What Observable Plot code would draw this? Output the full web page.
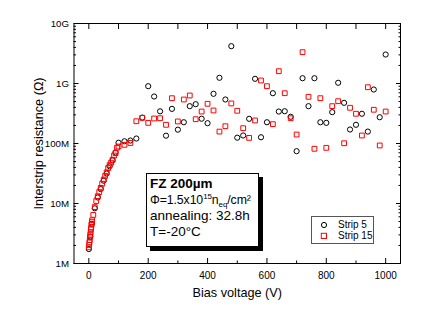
<!DOCTYPE html>
<html>
<head>
<meta charset="utf-8">
<script src="https://cdn.jsdelivr.net/npm/d3@7"></script>
<script src="https://cdn.jsdelivr.net/npm/@observablehq/plot@0.6"></script>
<style>
  html, body { margin: 0; padding: 0; background: #fff; }
  body { font-family: "Liberation Sans", Arial, Helvetica, sans-serif; color: #000; }
  #wrap { position: relative; width: 424px; height: 316px; overflow: hidden; }
  #info {
    position: absolute; left: 146px; top: 173px; width: 108px; height: 72px;
    border: 1px solid #000; background: #fff; box-shadow: 4px 4px 0 #000;
    font-size: 13.5px; padding-left: 3px; box-sizing: content-box;
  }
  #info div { white-space: nowrap; }
  #info sup, #info sub { font-size: 8px; line-height: 0; }
  #legend {
    position: absolute; left: 311px; top: 216px; width: 61px; height: 26px;
    border: 1px solid #555; background: #fff; font-size: 10px;
  }
  #legend .row { position: absolute; left: 0; height: 12px; white-space: nowrap; }
  #legend svg { position: absolute; left: 8px; top: 1px; }
  #legend span { position: absolute; left: 26px; top: -1px; }
</style>
</head>
<body>
<div id="wrap"></div>
<script>
// ---- tick definitions ----
const xTickValues = [0, 200, 400, 600, 800, 1000];
const xMinorTicks = [100, 300, 500, 700, 900];
const yTickValues = [1e6, 1e7, 1e8, 1e9, 1e10];
const yTickLabels = ["1M", "10M", "100M", "1G", "10G"];
const yMinorTicks = [];
for (const d of [1e6, 1e7, 1e8, 1e9]) for (let k = 2; k <= 9; k++) yMinorTicks.push(d * k);

// ---- data: bias voltage (V) and interstrip resistance (MΩ) ----
const strip5V = [0, 5, 10, 20, 30, 40, 50, 60, 70, 80, 90, 100, 120, 140, 160, 180,
  200, 220, 240, 260, 280, 300, 320, 340, 360, 380, 400, 420, 440, 460, 480, 500,
  520, 540, 560, 580, 600, 620, 640, 660, 680, 700, 720, 740, 760, 780, 800, 820,
  840, 860, 880, 900, 920, 940, 960, 980, 1000];
const strip5MOhm = [1.74, 2.82, 4.57, 8.32, 12.6, 17.4, 24.0, 31.6, 41.7, 52.5, 70.8, 103, 109, 112, 121, 270,
  902, 607, 344, 135, 378, 170, 226, 419, 452, 259, 218, 673, 1245, 541, 4188, 125,
  136, 258, 1197, 127, 226, 689, 341, 345, 279, 74.5, 1225, 419, 1225, 226, 221, 333,
  1028, 476, 171, 205, 313, 158, 794, 274, 3041];

const strip15V = [0, 1, 2, 3, 4, 5, 6, 7, 8, 9, 10, 11, 15, 20, 25, 30, 35, 40, 45, 50,
  55, 60, 65, 70, 75, 80, 85, 90, 95, 100, 120, 140, 160, 180, 200, 220, 240, 260,
  280, 300, 320, 340, 360, 380, 400, 420, 440, 460, 480, 500, 520, 540, 560, 580,
  600, 620, 640, 660, 680, 700, 720, 740, 760, 780, 800, 820, 840, 860, 880, 900,
  920, 940, 960, 980, 1000];
const strip15MOhm = [1.86, 2.04, 2.24, 2.45, 2.75, 3.02, 3.31, 3.72, 3.98, 4.47, 4.90, 5.25, 6.46, 8.71, 11.0, 13.2, 15.5, 18.2, 21.4, 25.1,
  28.8, 33.1, 38.9, 43.7, 47.9, 53.7, 63.1, 69.2, 85, 89, 95, 102, 235, 268, 221, 261, 264, 205,
  569, 233, 541, 631, 254, 341, 459, 355, 158, 194, 465, 351, 180, 124, 242, 1122,
  902, 210, 1603, 689, 264, 141, 3327, 600, 81.7, 569, 84.7, 419, 507, 101, 394, 313,
  136, 867, 365, 92.7, 341];

const rows5 = strip5V.map((v, i) => ({V: v, R: strip5MOhm[i] * 1e6}));
const rows15 = strip15V.map((v, i) => ({V: v, R: strip15MOhm[i] * 1e6}));

const noText = () => "";
const font = "Liberation Sans, Arial, Helvetica, sans-serif";

const chart = Plot.plot({
  width: 424,
  height: 316,
  marginLeft: 73.5,
  marginRight: 24,
  marginTop: 23,
  marginBottom: 53,
  style: {fontFamily: font, color: "#000", background: "#fff", overflow: "visible"},
  x: {domain: [-50, 1050]},
  y: {type: "log", domain: [1e6, 1e10]},
  marks: [
    Plot.frame({stroke: "#000", strokeWidth: 1}),
    // inward ticks, bottom
    Plot.axisX(xTickValues, {anchor: "bottom", tickSize: -5, tickFormat: noText, label: null}),
    Plot.axisX(xMinorTicks, {anchor: "bottom", tickSize: -2.5, tickFormat: noText, label: null}),
    Plot.axisX(xTickValues, {anchor: "bottom", tickSize: 0, tickPadding: 8, fontSize: 10, tickFormat: d => String(d), label: null}),
    // top ticks
    Plot.axisX(xTickValues.concat(xMinorTicks), {anchor: "top", tickSize: -5, tickFormat: noText, label: null}),
    // left ticks
    Plot.axisY(yTickValues, {anchor: "left", tickSize: -5, tickFormat: noText, label: null}),
    Plot.axisY(yMinorTicks, {anchor: "left", tickSize: -2.5, tickFormat: noText, label: null}),
    Plot.axisY(yTickValues, {anchor: "left", tickSize: 0, tickPadding: 5, fontSize: 9.7,
      tickFormat: d => yTickLabels[yTickValues.indexOf(d)], label: null}),
    // right ticks
    Plot.axisY(yTickValues, {anchor: "right", tickSize: -5, tickFormat: noText, label: null}),
    Plot.axisY(yMinorTicks, {anchor: "right", tickSize: -2.5, tickFormat: noText, label: null}),
    // titles
    Plot.text(["Bias voltage (V)"], {frameAnchor: "bottom", dy: 29, fontSize: 12.7, textAnchor: "middle", lineAnchor: "middle", fill: "#000"}),
    Plot.text(["Interstrip resistance (Ω)"], {frameAnchor: "left", dx: -35, rotate: -90, fontSize: 12.7, textAnchor: "middle", lineAnchor: "middle", fill: "#000"}),
    // data
    Plot.dot(rows5, {x: "V", y: "R", symbol: "circle", r: 2.6, stroke: "#000", strokeWidth: 1, fill: "none"}),
    Plot.dot(rows15, {x: "V", y: "R", symbol: "square", r: 2.7, stroke: "#ff0000", strokeWidth: 1, fill: "none"})
  ]
});

const wrap = document.getElementById("wrap");
wrap.appendChild(chart);

// info box
const info = document.createElement("div");
info.id = "info";
info.innerHTML =
  '<div style="height:17px;line-height:17px;font-weight:bold;padding-top:1px">FZ 200µm</div>' +
  '<div style="height:16px;line-height:16px;font-size:12.3px;letter-spacing:-0.1px">Φ=1.5x10<sup>15</sup>n<sub>eq</sub>/cm²</div>' +
  '<div style="height:15.5px;line-height:15.5px">annealing: 32.8h</div>' +
  '<div style="height:15.5px;line-height:15.5px">T=-20°C</div>';
wrap.appendChild(info);

// legend
const legend = document.createElement("div");
legend.id = "legend";
legend.innerHTML =
  '<div class="row" style="top:3px"><svg width="8" height="8"><circle cx="4" cy="4" r="2.6" fill="none" stroke="#000" stroke-width="1"/></svg><span>Strip 5</span></div>' +
  '<div class="row" style="top:14px"><svg width="8" height="8"><rect x="1.3" y="1.3" width="5.2" height="5.2" fill="none" stroke="#ff0000" stroke-width="1"/></svg><span>Strip 15</span></div>';
wrap.appendChild(legend);
</script>
</body>
</html>
